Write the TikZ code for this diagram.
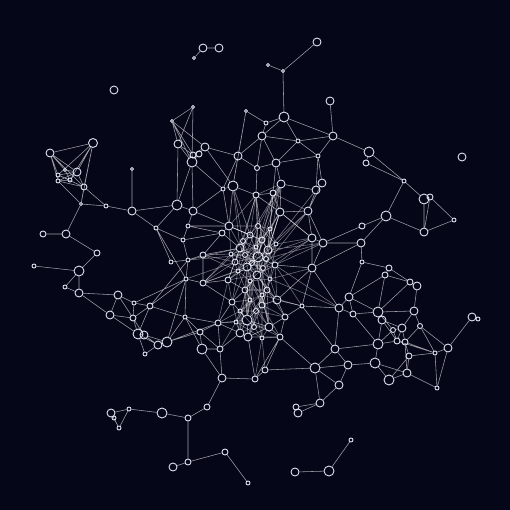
\documentclass[tikz,border=0pt]{standalone}
\definecolor{nightsky}{RGB}{5,6,24}
\definecolor{ringcol}{RGB}{218,224,238}
\begin{document}
\begin{tikzpicture}[x=1pt, y=-1pt, line width=.6,
    ring/.style={circle, draw=ringcol, line width=.9, inner sep=0, minimum size=#1},
    ring/.default=6,
    link/.style={draw=white, opacity=.62, line width=.55, shorten <=-1, shorten >=-1},
    haze/.style={draw=white, opacity=.45, line width=.55}]
    \fill[nightsky] (0,0) rectangle (510,510);
    % stray nodes on top
    \node[ring=8] (t1) at (203,48) {};
    \node[ring=8] (t2) at (219,48) {};
    \node[ring=3] (t3) at (194,58) {};
    \node[ring=8] (t4) at (114,90) {};
    \node[ring=8] (t5) at (317,42) {};
    \node[ring=3] (t6) at (283,71) {};
    \node[ring=3] (t7) at (268,65) {};
    \node[ring=8] (t8) at (330,101) {};
    \node[ring=8] (t9) at (462,157) {};
    % upper left cluster
    \node[ring=9] (l1) at (93,143) {};
    \node[ring=8] (l2) at (50,153) {};
    \node[ring=8] (l3) at (77,172) {};
    \node[ring=4] (l4) at (58,175) {};
    \node[ring=4] (l5) at (58,181) {};
    \node[ring=6] (l6) at (84,187) {};
    \node[ring=3] (l7) at (81,204) {};
    \node[ring=4] (l8) at (106,206) {};
    \node[ring=4] (l9) at (70,180) {};
    \node[ring=3] (l10) at (65,170) {};
    % upper middle
    \node[ring=3] (u1) at (132,169) {};
    \node[ring=8] (u2) at (132,211) {};
    \node[ring=4] (u3) at (156,228) {};
    \node[ring=10] (u4) at (177,205) {};
    \node[ring=8] (u5) at (193,211) {};
    \node[ring=3] (u6) at (193,107) {};
    \node[ring=3] (u7) at (172,121) {};
    \node[ring=8] (u8) at (178,144) {};
    \node[ring=8] (u9) at (205,147) {};
    \node[ring=6] (u10) at (193,155) {};
    \node[ring=6] (u11) at (199,154) {};
    \node[ring=10] (u12) at (192,162) {};
    \node[ring=3] (u13) at (246,111) {};
    \node[ring=8] (u14) at (238,156) {};
    \node[ring=10] (u15) at (233,186) {};
    \node[ring=4] (u16) at (223,189) {};
    \node[ring=8] (u17) at (229,226) {};
    \node[ring=6] (u18) at (222,233) {};
    \node[ring=4] (u19) at (183,240) {};
    \node[ring=4] (u20) at (188,226) {};
    % top centre
    \node[ring=10] (c1) at (284,117) {};
    \node[ring=4] (c2) at (266,123) {};
    \node[ring=8] (c3) at (262,136) {};
    \node[ring=4] (c4) at (298,141) {};
    \node[ring=8] (c5) at (333,136) {};
    \node[ring=4] (c6) at (318,156) {};
    \node[ring=10] (c7) at (369,152) {};
    \node[ring=6] (c8) at (366,163) {};
    \node[ring=8] (c9) at (276,163) {};
    \node[ring=6] (c10) at (256,195) {};
    \node[ring=6] (c11) at (273,193) {};
    \node[ring=8] (c12) at (281,184) {};
    \node[ring=8] (c14) at (322,183) {};
    \node[ring=8] (c15) at (316,190) {};
    \node[ring=8] (c16) at (308,211) {};
    \node[ring=8] (c17) at (280,212) {};
    \node[ring=5] (c19) at (257,168) {};
    % right upper
    \node[ring=4] (r1) at (404,181) {};
    \node[ring=10] (r2) at (424,199) {};
    \node[ring=6] (r3) at (430,197) {};
    \node[ring=4] (r4) at (454,220) {};
    \node[ring=8] (r5) at (424,232) {};
    \node[ring=10] (r6) at (386,216) {};
    \node[ring=6] (r7) at (362,226) {};
    \node[ring=8] (r8) at (361,243) {};
    \node[ring=8] (r9) at (323,243) {};
    \node[ring=8] (r10) at (312,238) {};
    \node[ring=8] (r11) at (312,268) {};
    \node[ring=4] (r12) at (362,262) {};
    \node[ring=6] (r13) at (389,268) {};
    \node[ring=6] (r14) at (385,275) {};
    \node[ring=6] (r15) at (410,282) {};
    \node[ring=8] (r16) at (417,286) {};
    % right lower
    \node[ring=8] (s1) at (349,297) {};
    \node[ring=8] (s2) at (339,308) {};
    \node[ring=6] (s3) at (353,314) {};
    \node[ring=4] (s4) at (302,306) {};
    \node[ring=10] (s5) at (378,312) {};
    \node[ring=8] (s6) at (382,320) {};
    \node[ring=8] (s7) at (414,311) {};
    \node[ring=8] (s8) at (402,328) {};
    \node[ring=8] (s9) at (472,317) {};
    \node[ring=4] (s10) at (478,319) {};
    \node[ring=8] (s11) at (448,348) {};
    \node[ring=4] (s12) at (435,353) {};
    \node[ring=6] (s13) at (409,356) {};
    \node[ring=6] (s14) at (397,341) {};
    \node[ring=6] (s15) at (405,342) {};
    \node[ring=10] (s16) at (378,344) {};
    \node[ring=10] (s17) at (375,363) {};
    \node[ring=8] (s18) at (335,349) {};
    \node[ring=8] (s19) at (348,365) {};
    \node[ring=10] (s20) at (315,368) {};
    \node[ring=8] (s21) at (339,385) {};
    \node[ring=10] (s22) at (389,380) {};
    \node[ring=8] (s23) at (407,373) {};
    \node[ring=4] (s24) at (437,388) {};
    \node[ring=8] (s25) at (320,403) {};
    \node[ring=6] (s26) at (296,407) {};
    \node[ring=8] (s27) at (298,413) {};
    \node[ring=4] (s28) at (351,440) {};
    \node[ring=10] (s29) at (329,471) {};
    \node[ring=8] (s30) at (295,472) {};
    \node[ring=5] (s32) at (393,330) {};
    \node[ring=5] (s33) at (420,326) {};
    % centre
    \node[ring=8] (m2) at (240,248) {};
    \node[ring=10] (m3) at (258,257) {};
    \node[ring=8] (m4) at (247,267) {};
    \node[ring=8] (m5) at (257,275) {};
    \node[ring=6] (m6) at (267,290) {};
    \node[ring=8] (m7) at (277,300) {};
    \node[ring=10] (m9) at (247,320) {};
    \node[ring=8] (m10) at (240,333) {};
    \node[ring=8] (m11) at (248,337) {};
    \node[ring=8] (m12) at (269,327) {};
    \node[ring=6] (m13) at (280,337) {};
    \node[ring=6] (m14) at (218,323) {};
    \node[ring=6] (m15) at (200,332) {};
    \node[ring=4] (m16) at (185,317) {};
    \node[ring=10] (m17) at (202,349) {};
    \node[ring=6] (m18) at (220,349) {};
    \node[ring=6] (m19) at (203,255) {};
    \node[ring=4] (m20) at (188,260) {};
    \node[ring=4] (m21) at (186,279) {};
    \node[ring=6] (m22) at (203,283) {};
    \node[ring=4] (m25) at (171,262) {};
    \node[ring=8] (m27) at (222,378) {};
    \node[ring=6] (m28) at (255,379) {};
    \node[ring=6] (m30) at (285,317) {};
    \node[ring=6] (m32) at (265,370) {};
    \node[ring=8] (m35) at (268,250) {};
    \node[ring=6] (m36) at (250,235) {};
    \node[ring=6] (m37) at (262,240) {};
    \node[ring=6] (m38) at (235,262) {};
    \node[ring=6] (m39) at (275,265) {};
    \node[ring=6] (m40) at (228,280) {};
    \node[ring=6] (m41) at (245,290) {};
    \node[ring=6] (m42) at (262,305) {};
    \node[ring=6] (m43) at (232,302) {};
    % the bright core
    \node[ring=5] (k1) at (245,255) {};
    \node[ring=5] (k2) at (252,263) {};
    \node[ring=4] (k3) at (238,271) {};
    \node[ring=5] (k4) at (263,268) {};
    \node[ring=4] (k5) at (250,281) {};
    \node[ring=4] (k6) at (270,279) {};
    \node[ring=5] (k7) at (243,241) {};
    \node[ring=4] (k8) at (256,247) {};
    \node[ring=4] (k9) at (231,254) {};
    \node[ring=5] (k10) at (266,259) {};
    \node[ring=4] (k11) at (250,300) {};
    \node[ring=5] (k12) at (256,311) {};
    \node[ring=4] (k13) at (240,311) {};
    \node[ring=4] (k14) at (262,295) {};
    \node[ring=5] (k15) at (254,327) {};
    \node[ring=4] (k16) at (262,338) {};
    \node[ring=4] (k17) at (236,322) {};
    \node[ring=4] (k18) at (270,229) {};
    \node[ring=5] (k19) at (258,226) {};
    \node[ring=4] (k20) at (276,244) {};
    % left
    \node[ring=6] (w1) at (43,234) {};
    \node[ring=8] (w2) at (66,234) {};
    \node[ring=6] (w3) at (97,253) {};
    \node[ring=4] (w4) at (34,266) {};
    \node[ring=10] (w5) at (79,271) {};
    \node[ring=4] (w6) at (65,287) {};
    \node[ring=8] (w7) at (79,293) {};
    \node[ring=8] (w8) at (118,295) {};
    \node[ring=8] (w9) at (110,315) {};
    \node[ring=4] (w10) at (134,303) {};
    \node[ring=6] (w11) at (150,306) {};
    \node[ring=6] (w12) at (133,318) {};
    \node[ring=10] (w13) at (138,334) {};
    \node[ring=8] (w14) at (144,335) {};
    \node[ring=8] (w15) at (158,345) {};
    \node[ring=10] (w16) at (167,342) {};
    \node[ring=4] (w17) at (145,354) {};
    % bottom
    \node[ring=6] (b1) at (207,407) {};
    \node[ring=6] (b2) at (188,418) {};
    \node[ring=10] (b3) at (162,413) {};
    \node[ring=4] (b4) at (129,409) {};
    \node[ring=8] (b5) at (111,413) {};
    \node[ring=4] (b6) at (114,418) {};
    \node[ring=4] (b7) at (119,428) {};
    \node[ring=6] (b8) at (188,462) {};
    \node[ring=8] (b9) at (173,467) {};
    \node[ring=6] (b10) at (225,452) {};
    \node[ring=4] (b11) at (248,483) {};

    \draw[link] (t1) -- (t2) (t1) -- (t3) (t5) -- (t6) (t6) -- (t7) (t6) -- (c1);
    \draw[link] (l1) -- (l2) (l1) -- (l3) (l1) -- (l6) (l1) -- (l4) (l1) -- (l7)
        (l2) -- (l3) (l2) -- (l4) (l2) -- (l5) (l2) -- (l6) (l2) -- (l10)
        (l3) -- (l4) (l3) -- (l5) (l3) -- (l6) (l3) -- (l9) (l3) -- (l10)
        (l4) -- (l5) (l4) -- (l9) (l5) -- (l6) (l5) -- (l9) (l6) -- (l7)
        (l5) -- (l7) (l6) -- (l8) (l7) -- (l8) (l7) -- (w2) (l8) -- (u2)
        (l4) -- (l6) (l10) -- (l9) (l1) -- (l9);
    \draw[link] (w1) -- (w2) (w2) -- (w3) (w4) -- (w5) (w5) -- (w6) (w6) -- (w7)
        (w5) -- (w7) (w5) -- (w3) (w7) -- (w8) (w7) -- (w9) (w8) -- (w9)
        (w8) -- (w10) (w8) -- (w12) (w9) -- (w12) (w9) -- (w13) (w10) -- (w11)
        (w10) -- (w12) (w11) -- (w12) (w11) -- (w13) (w11) -- (m16) (w11) -- (m21)
        (w12) -- (w13) (w12) -- (w14) (w13) -- (w14) (w13) -- (w17) (w14) -- (w15)
        (w14) -- (w16) (w15) -- (w16) (w15) -- (w17) (w13) -- (w15) (w16) -- (m16)
        (w16) -- (m15) (w16) -- (m21) (w16) -- (m14) (w10) -- (m21) (w11) -- (m20);
    \draw[link] (u1) -- (u2) (u2) -- (u3) (u2) -- (u4) (u4) -- (u5) (u4) -- (u3)
        (u3) -- (u19) (u3) -- (m21) (u3) -- (m25) (u4) -- (u12) (u5) -- (u20)
        (u5) -- (u12) (u5) -- (u16) (u5) -- (u17) (u20) -- (u19) (u20) -- (u17)
        (u20) -- (u18) (u6) -- (u7) (u6) -- (u8) (u6) -- (u12) (u7) -- (u8)
        (u7) -- (u9) (u7) -- (u12) (u7) -- (u10) (u8) -- (u10) (u8) -- (u12)
        (u9) -- (u10) (u9) -- (u14) (u9) -- (u11) (u9) -- (u15) (u10) -- (u12)
        (u11) -- (u12) (u13) -- (u14) (u13) -- (c2) (u13) -- (u15) (u14) -- (u15)
        (u14) -- (u16) (u14) -- (c3) (u15) -- (u16) (u15) -- (u17) (u15) -- (c10)
        (u16) -- (u17) (u17) -- (u18) (u17) -- (m36) (u18) -- (u19) (u18) -- (m2)
        (u18) -- (m19) (u12) -- (u16) (u8) -- (u4) (u19) -- (m20) (u14) -- (c19);
    \draw[link] (c1) -- (c2) (c1) -- (c3) (c1) -- (c4) (c1) -- (c5) (c2) -- (c3)
        (c3) -- (c4) (c3) -- (c9) (c4) -- (c5) (c4) -- (c6) (c4) -- (c9)
        (c5) -- (c6) (c5) -- (c7) (c5) -- (t8) (c6) -- (c9) (c6) -- (c14)
        (c6) -- (c15) (c7) -- (c8) (c7) -- (r1) (c8) -- (r1) (c9) -- (c12)
        (c9) -- (c11) (c9) -- (c19) (c19) -- (c10) (c10) -- (c11) (c11) -- (c12)
        (c12) -- (c15) (c14) -- (c15) (c15) -- (c16) (c14) -- (c16) (c16) -- (c17)
        (c16) -- (r10) (c16) -- (r9) (c17) -- (c10) (c17) -- (c11) (c17) -- (m35)
        (c17) -- (r10) (c3) -- (c19) (c12) -- (c17);
    \draw[link] (r1) -- (r2) (r1) -- (r6) (r2) -- (r3) (r2) -- (r5) (r3) -- (r4)
        (r3) -- (r5) (r4) -- (r5) (r6) -- (r5) (r6) -- (r7) (r6) -- (r8)
        (r7) -- (r9) (r8) -- (r9) (r8) -- (r11) (r9) -- (r10) (r9) -- (r11)
        (r10) -- (r11) (r8) -- (r12) (r12) -- (r13) (r12) -- (s1) (r13) -- (r14)
        (r13) -- (r15) (r14) -- (r15) (r14) -- (s1) (r15) -- (r16) (r16) -- (s7)
        (r15) -- (s5) (r14) -- (s5) (r11) -- (s4) (r11) -- (m39) (r11) -- (s2);
    \draw[link] (s1) -- (s2) (s1) -- (s3) (s1) -- (s5) (s2) -- (s3) (s2) -- (s4)
        (s2) -- (s18) (s3) -- (s5) (s3) -- (s16) (s5) -- (s6) (s5) -- (s7)
        (s6) -- (s8) (s6) -- (s16) (s7) -- (s8) (s9) -- (s11) (s9) -- (s10)
        (s11) -- (s12) (s11) -- (s24) (s12) -- (s24) (s12) -- (s13) (s12) -- (s15)
        (s12) -- (s33) (s8) -- (s14) (s8) -- (s15) (s14) -- (s15) (s14) -- (s16)
        (s15) -- (s13) (s13) -- (s23) (s15) -- (s23) (s16) -- (s17) (s16) -- (s18)
        (s17) -- (s22) (s17) -- (s19) (s18) -- (s19) (s18) -- (s20) (s19) -- (s20)
        (s19) -- (s21) (s20) -- (s21) (s20) -- (s25) (s21) -- (s25) (s22) -- (s23)
        (s23) -- (s24) (s22) -- (s13) (s25) -- (s26) (s25) -- (s27) (s26) -- (s27)
        (s7) -- (s33) (s33) -- (s15) (s32) -- (s5) (s32) -- (s14) (s32) -- (s8)
        (s16) -- (s32) (s28) -- (s29) (s29) -- (s30) (s6) -- (s14) (s11) -- (s33)
        (s12) -- (s14) (s17) -- (s23) (s4) -- (s18);
    \draw[link] (m2) -- (m3) (m2) -- (m36) (m2) -- (m19) (m2) -- (m38) (m3) -- (m37)
        (m3) -- (m35) (m3) -- (m4) (m3) -- (m5) (m3) -- (m39) (m4) -- (m5)
        (m4) -- (m38) (m4) -- (m40) (m5) -- (m6) (m5) -- (m39) (m5) -- (m41)
        (m6) -- (m7) (m6) -- (m41) (m6) -- (m42) (m7) -- (s4) (m7) -- (m42)
        (m7) -- (m30) (m7) -- (r11) (m9) -- (m10) (m9) -- (m11) (m9) -- (m12)
        (m9) -- (m42) (m9) -- (m43) (m10) -- (m11) (m10) -- (m14) (m11) -- (m12)
        (m12) -- (m13) (m12) -- (m30) (m13) -- (m30) (m13) -- (m28) (m14) -- (m15)
        (m14) -- (m16) (m14) -- (m43) (m15) -- (m16) (m15) -- (m17) (m17) -- (m18)
        (m18) -- (m10) (m17) -- (m27) (m18) -- (m27) (m27) -- (m28) (m28) -- (m11)
        (m28) -- (m32) (m32) -- (m13) (m32) -- (s20) (m19) -- (m20) (m19) -- (m22)
        (m20) -- (m21) (m21) -- (m22) (m22) -- (m40) (m22) -- (m43) (m25) -- (m20)
        (m35) -- (m37) (m36) -- (m37) (m37) -- (c10) (m35) -- (c11) (m36) -- (u17)
        (m38) -- (m40) (m40) -- (m41) (m41) -- (m43) (m30) -- (s4) (m13) -- (s20)
        (m14) -- (m18) (m16) -- (m21) (m16) -- (m17) (m15) -- (m18);
    \draw[link] (m27) -- (b1) (b1) -- (b2) (b2) -- (b3) (b3) -- (b4) (b4) -- (b5)
        (b4) -- (b7) (b5) -- (b6) (b5) -- (b7) (b6) -- (b7) (b2) -- (b8)
        (b8) -- (b9) (b8) -- (b10) (b10) -- (b11);
    % spokes of the core
    \draw[haze] (m3) -- (u15) (m3) -- (c12) (m3) -- (c16) (m3) -- (r10) (m3) -- (m9)
        (m3) -- (m12) (m4) -- (m22) (m5) -- (m30) (m35) -- (c15) (m37) -- (u17)
        (m38) -- (m19) (m2) -- (u15) (m4) -- (m9) (m5) -- (m12) (m36) -- (c10)
        (m39) -- (r10) (m39) -- (s4) (m38) -- (m22) (m41) -- (m9) (m2) -- (m22)
        (m35) -- (c17) (m37) -- (c11) (m36) -- (c12) (m2) -- (c10) (m4) -- (m43)
        (m5) -- (m7) (m35) -- (r9) (m39) -- (m7) (m37) -- (c17) (m2) -- (m40)
        (m3) -- (c11) (m3) -- (c10) (m35) -- (c12) (m36) -- (u15) (m4) -- (m42)
        (m5) -- (m42) (m41) -- (m12) (m6) -- (m12) (m6) -- (m9) (m42) -- (m11)
        (m43) -- (m10) (m40) -- (m14) (m38) -- (m21) (m2) -- (m20) (m37) -- (m39)
        (m35) -- (m5) (m36) -- (m38) (m3) -- (m38) (m3) -- (m36) (m4) -- (m41)
        (m5) -- (m40) (m39) -- (m6) (m37) -- (m4) (m35) -- (m4) (m2) -- (m5)
        (m3) -- (m6) (m39) -- (r9) (m39) -- (s2) (m42) -- (m30) (m42) -- (m13)
        (m9) -- (m13) (m9) -- (m14) (m43) -- (m40) (m41) -- (m10) (m11) -- (m13)
        (c11) -- (c16) (c17) -- (r10) (c17) -- (m37) (c10) -- (u17) (c10) -- (c12);
    \draw[haze] (k1) -- (k2) (k1) -- (k3) (k1) -- (k4) (k1) -- (k5) (k1) -- (k6)
        (k1) -- (k7) (k1) -- (k8) (k1) -- (k9) (k1) -- (k10) (k2) -- (k3)
        (k2) -- (k4) (k2) -- (k5) (k2) -- (k6) (k2) -- (k7) (k2) -- (k8)
        (k2) -- (k9) (k2) -- (k10) (k3) -- (k4) (k3) -- (k5) (k3) -- (k7)
        (k3) -- (k9) (k3) -- (k11) (k4) -- (k5) (k4) -- (k6) (k4) -- (k8)
        (k4) -- (k10) (k4) -- (k14) (k5) -- (k6) (k5) -- (k11) (k5) -- (k14)
        (k6) -- (k10) (k6) -- (k14) (k7) -- (k8) (k7) -- (k9) (k7) -- (k10)
        (k8) -- (k10) (k8) -- (k9) (k11) -- (k12) (k11) -- (k13) (k11) -- (k14)
        (k12) -- (k13) (k12) -- (k14) (k13) -- (k14) (k5) -- (k13) (k5) -- (k12)
        (k12) -- (k15) (k13) -- (k15) (k11) -- (k15) (k15) -- (k16) (k15) -- (k17)
        (k12) -- (k16) (k13) -- (k17) (k14) -- (k16) (k11) -- (k17) (k16) -- (k17)
        (k18) -- (k19) (k18) -- (k20) (k19) -- (k20) (k19) -- (k7) (k19) -- (k8)
        (k18) -- (k8) (k18) -- (k10) (k20) -- (k10) (k20) -- (k4) (k19) -- (k1)
        (k18) -- (k1) (k20) -- (k2) (k19) -- (k2) (k18) -- (k3) (k20) -- (k6);
    \draw[haze] (k7) -- (c10) (k8) -- (c11) (k10) -- (c17) (k8) -- (c12)
        (k7) -- (u15) (k9) -- (u17) (k9) -- (m19) (k3) -- (m22) (k3) -- (m40)
        (k4) -- (r10) (k10) -- (r9) (k6) -- (r11) (k6) -- (m7) (k14) -- (s4)
        (k12) -- (m12) (k12) -- (m30) (k13) -- (m9) (k13) -- (m14) (k11) -- (m43)
        (k12) -- (m11) (k13) -- (m10) (k1) -- (m2) (k2) -- (m3) (k2) -- (m4)
        (k4) -- (m39) (k5) -- (m41) (k6) -- (m6) (k10) -- (m35) (k8) -- (m37)
        (k7) -- (m36) (k9) -- (m38) (k1) -- (u17) (k2) -- (c17) (k4) -- (c16)
        (k5) -- (m9) (k14) -- (m12) (k3) -- (m19) (k1) -- (m20) (k6) -- (s2)
        (k11) -- (m9) (k14) -- (m42) (k5) -- (m42) (k3) -- (m43) (k9) -- (m22)
        (k18) -- (c17) (k18) -- (c11) (k19) -- (c10) (k19) -- (c12) (k20) -- (r10)
        (k20) -- (c16) (k19) -- (u17) (k15) -- (m11) (k15) -- (m12) (k16) -- (m13)
        (k16) -- (m28) (k17) -- (m10) (k17) -- (m14) (k15) -- (m9) (k16) -- (m12)
        (k17) -- (m18) (k16) -- (m32) (k15) -- (m10);
\end{tikzpicture}
\end{document}
